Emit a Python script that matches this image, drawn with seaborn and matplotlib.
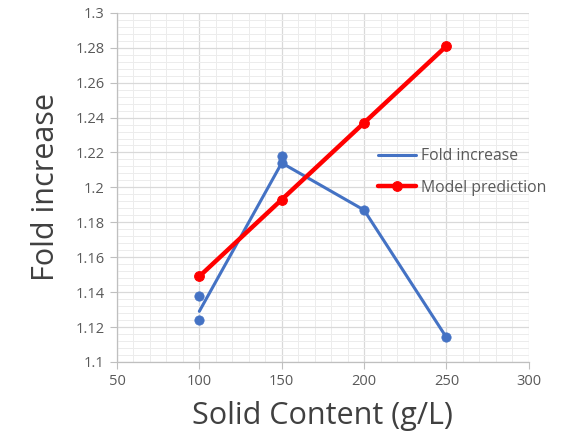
import numpy as np
import pandas as pd
import matplotlib.pyplot as plt
import seaborn as sns
from matplotlib.ticker import MultipleLocator

# data
solid = [100, 150, 200, 250]
fold_line = [1.129, 1.214, 1.187, 1.114]
rep_x = [100, 100, 150, 150, 200, 250]
rep_y = [1.138, 1.124, 1.218, 1.214, 1.187, 1.114]
model = [1.149, 1.193, 1.237, 1.281]

sns.set_theme(style="white")
plt.rcParams['font.family'] = ['Open Sans', 'DejaVu Sans']

fig = plt.figure(figsize=(5.65, 4.43), dpi=100)
ax = fig.add_axes([0.207, 0.183, 0.729, 0.788])

blue = "#4472C4"
red = "#FF0000"

df_fold = pd.DataFrame({"x": solid, "y": fold_line})
df_rep = pd.DataFrame({"x": rep_x, "y": rep_y})
df_model = pd.DataFrame({"x": solid, "y": model})

sns.lineplot(data=df_fold, x="x", y="y", color=blue, lw=2.2, ax=ax, label="Fold increase", zorder=3)
sns.scatterplot(data=df_rep, x="x", y="y", color=blue, s=45, edgecolor=blue, ax=ax, zorder=4)
sns.lineplot(data=df_model, x="x", y="y", color=red, lw=3.2, marker="o", markersize=7,
             markeredgecolor=red, ax=ax, label="Model prediction", zorder=5)

ax.set_xlim(50, 300)
ax.set_ylim(1.1, 1.3)
ax.xaxis.set_major_locator(MultipleLocator(50))
ax.xaxis.set_minor_locator(MultipleLocator(10))
ax.yaxis.set_minor_locator(MultipleLocator(0.004))
ax.set_yticks(np.round(np.arange(1.1, 1.301, 0.02), 2))
ax.set_yticklabels(["1.1", "1.12", "1.14", "1.16", "1.18", "1.2", "1.22", "1.24", "1.26", "1.28", "1.3"])

ax.grid(which="major", color="#d9d9d9", lw=0.9)
ax.grid(which="minor", color="#ececec", lw=0.7)
ax.set_axisbelow(True)

for s in ["top", "right"]:
    ax.spines[s].set_visible(False)
for s in ["left", "bottom"]:
    ax.spines[s].set_color("#bfbfbf")
    ax.spines[s].set_linewidth(0.9)

ax.tick_params(axis="both", which="major", length=5, width=0.8, color="#bfbfbf",
               labelsize=10.5, labelcolor="#595959", left=True, bottom=True, pad=4)
ax.tick_params(axis="both", which="minor", length=0)

ax.set_xlabel("Solid Content (g/L)", fontsize=22, color="#404040", labelpad=8)
ax.set_ylabel("Fold increase", fontsize=22, color="#404040", labelpad=10)

ax.legend(loc="upper left", bbox_to_anchor=(0.6, 0.653), frameon=False, fontsize=11.3,
          handlelength=2.4, labelspacing=1.0, handletextpad=0.3, labelcolor="#595959")

plt.savefig("out.png", dpi=100)
